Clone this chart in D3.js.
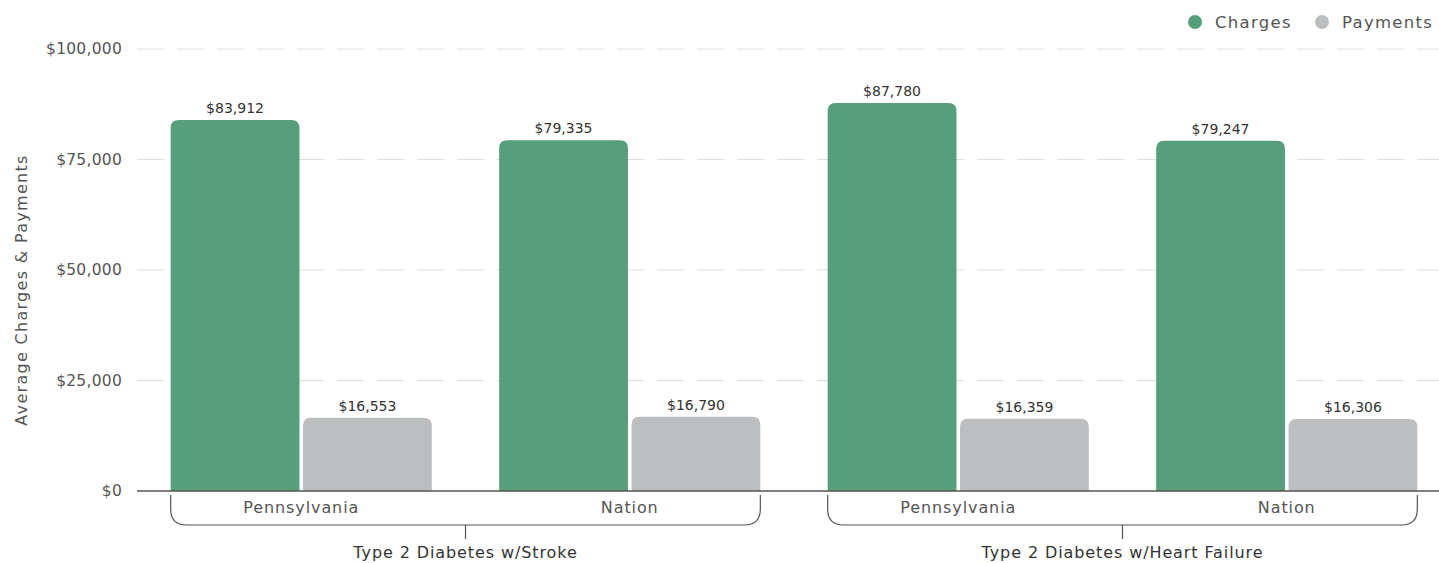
<!DOCTYPE html>
<html><head><meta charset="utf-8">
<script src="https://cdn.jsdelivr.net/npm/d3@7"></script>
<style>
body{margin:0;background:#fff;}
text{font-family:"DejaVu Sans",sans-serif;}
</style></head>
<body><svg id="chart" width="1439" height="563"></svg>
<script>
const groups = ["Type 2 Diabetes w/Stroke", "Type 2 Diabetes w/Heart Failure"];
const regions = ["Pennsylvania", "Nation"];
const seriesNames = ["Charges", "Payments"];
const charges = [83912, 79335, 87780, 79247];
const payments = [16553, 16790, 16359, 16306];
const yTicks = [0, 25000, 50000, 75000, 100000];
const colors = ["#579f7a", "#bdbec0"];

const svg = d3.select("#chart");
const cats = [];
groups.forEach((g, gi) => regions.forEach((r, ri) => cats.push({key: gi + "-" + ri, group: g, region: r, gi, ri})));

const x0 = d3.scaleBand().domain(cats.map(c => c.key)).range([137, 1451]).paddingInner(0.205).paddingOuter(0.1025);
const x1 = d3.scaleBand().domain(seriesNames).range([0, x0.bandwidth()]).paddingInner(0.027);
const y = d3.scaleLinear().domain([0, 100000]).range([491, 49]);

// grid
const grid = svg.append("g");
grid.selectAll("line").data(yTicks.filter(t => t > 0)).join("line")
  .attr("x1", 137).attr("x2", 1439).attr("y1", d => y(d)).attr("y2", d => y(d))
  .attr("stroke", "#dedede").attr("stroke-width", 1).attr("stroke-dasharray", "27,13");

// y axis labels
const yAxis = d3.axisLeft(y).tickValues(yTicks).tickSize(0).tickPadding(0)
  .tickFormat(d => "$" + d3.format(",")(d));
const ya = svg.append("g").attr("transform", "translate(122,0)").call(yAxis);
ya.select(".domain").remove();
ya.selectAll("text").attr("font-size", 15.5).attr("fill", "#555").attr("font-family", "DejaVu Sans, sans-serif")
  .attr("letter-spacing", 0.25);

svg.append("text").attr("transform", "translate(21,290) rotate(-90)")
  .attr("text-anchor", "middle").attr("font-size", 16).attr("fill", "#555")
  .attr("letter-spacing", 1.3)
  .attr("dy", "0.35em").text("Average Charges & Payments");

// bars
function topRounded(x, yTop, w, h, r) {
  r = Math.min(r, h, w / 2);
  return `M${x},${yTop + h}V${yTop + r}Q${x},${yTop} ${x + r},${yTop}H${x + w - r}Q${x + w},${yTop} ${x + w},${yTop + r}V${yTop + h}Z`;
}
const data = [];
cats.forEach((c, i) => {
  data.push({cat: c.key, s: "Charges", v: charges[i]});
  data.push({cat: c.key, s: "Payments", v: payments[i]});
});
svg.append("g").selectAll("path").data(data).join("path")
  .attr("d", d => topRounded(x0(d.cat) + x1(d.s), y(d.v), x1.bandwidth(), y(0) - y(d.v), 8))
  .attr("fill", d => colors[seriesNames.indexOf(d.s)]);

svg.append("g").selectAll("text").data(data).join("text")
  .attr("x", d => x0(d.cat) + x1(d.s) + x1.bandwidth() / 2)
  .attr("y", d => y(d.v) - 7)
  .attr("text-anchor", "middle").attr("font-size", 14).attr("fill", "#333")
  .attr("font-family", "Roboto, sans-serif")
  .text(d => "$" + d3.format(",")(d.v));

// baseline
svg.append("line").attr("x1", 137).attr("x2", 1439).attr("y1", y(0)).attr("y2", y(0))
  .attr("stroke", "#555").attr("stroke-width", 1.3);

// region labels
svg.append("g").selectAll("text").data(cats).join("text")
  .attr("x", d => x0(d.key) + x0.bandwidth() / 2).attr("y", 513)
  .attr("text-anchor", "middle").attr("font-size", 16).attr("fill", "#555")
  .attr("letter-spacing", 0.9)
  .text(d => d.region);

// group brackets
groups.forEach((g, gi) => {
  const first = x0(gi + "-0"), last = x0(gi + "-" + (regions.length - 1)) + x0.bandwidth();
  const top = 495, bot = 525, r = 16;
  svg.append("path")
    .attr("d", `M${first},${top}V${bot - r}Q${first},${bot} ${first + r},${bot}H${last - r}Q${last},${bot} ${last},${bot - r}V${top}`)
    .attr("fill", "none").attr("stroke", "#555").attr("stroke-width", 1.2);
  const mid = (first + last) / 2;
  svg.append("line").attr("x1", mid).attr("x2", mid).attr("y1", bot).attr("y2", 539)
    .attr("stroke", "#555").attr("stroke-width", 1.2);
  svg.append("text").attr("x", mid).attr("y", 558).attr("text-anchor", "middle")
    .attr("font-size", 16).attr("fill", "#333").attr("letter-spacing", 0.9).text(g);
});

// legend
const leg = svg.append("g");
const legX = [1195, 1322];
seriesNames.forEach((s, i) => {
  leg.append("circle").attr("cx", legX[i]).attr("cy", 22).attr("r", 7).attr("fill", colors[i]);
  leg.append("text").attr("x", legX[i] + 20).attr("y", 28).attr("font-size", 16.5).attr("fill", "#555")
    .attr("letter-spacing", 1.3).text(s);
});
</script></body></html>
